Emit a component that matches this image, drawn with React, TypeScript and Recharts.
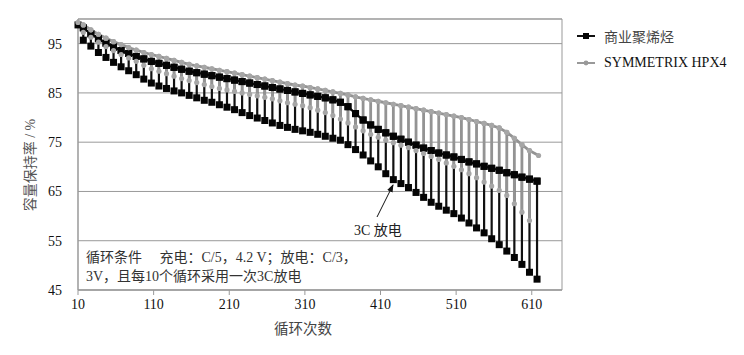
import { CartesianGrid, Line, LineChart, ReferenceArea, XAxis, YAxis } from "recharts";

// 3C discharge every 10 cycles
const cycles3C = [
  17, 27, 37, 47, 57, 67, 77, 87, 97, 107, 117, 127, 137, 147, 157, 167, 177, 187, 197, 207,
  217, 227, 237, 247, 257, 267, 277, 287, 297, 307, 317, 327, 337, 347, 357, 367, 377, 387, 397, 407,
  417, 427, 437, 447, 457, 467, 477, 487, 497, 507, 517, 527, 537, 547, 557, 567, 577, 587, 597, 607,
  617,
];

// 商业聚烯烃
const blackStart = 98.8;
const blackUpper = [
  98.2, 97.0, 96.0, 95.1, 94.3, 93.6, 93.0, 92.4, 91.9, 91.4,
  91.0, 90.6, 90.2, 89.8, 89.4, 89.1, 88.8, 88.5, 88.2, 87.9,
  87.6, 87.3, 87.0, 86.7, 86.4, 86.1, 85.8, 85.5, 85.2, 84.9,
  84.6, 84.3, 84.0, 83.6, 83.1, 82.2, 80.8, 79.5, 78.5, 77.6,
  76.9, 76.2, 75.6, 75.0, 74.4, 73.8, 73.3, 72.8, 72.4, 72.0,
  71.5, 71.0, 70.6, 70.1, 69.7, 69.3, 68.8, 68.4, 67.9, 67.5,
  67.1,
];
const blackLow = [
  95.7, 94.5, 93.2, 92.2, 91.2, 90.3, 89.5, 88.7, 87.8, 87.0,
  86.4, 85.9, 85.4, 85.0, 84.5, 84.0, 83.5, 83.1, 82.6, 82.1,
  81.6, 81.0, 80.4, 79.9, 79.4, 78.9, 78.4, 78.0, 77.6, 77.3,
  77.0, 76.6, 76.2, 75.8, 75.4, 74.5, 73.5, 72.4, 71.2, 70.0,
  68.6, 67.4, 66.6, 65.8, 64.8, 63.8, 62.8, 62.0, 61.2, 60.5,
  59.6, 58.6, 57.6, 56.6, 55.4, 54.2, 52.9, 51.6, 50.2, 48.6,
  47.2,
];

// SYMMETRIX HPX4
const grayStart = 99.3;
const grayEnd = 72.3;
const grayUpper = [
  98.8, 97.8, 96.9, 96.1, 95.4, 94.8, 94.2, 93.7, 93.2, 92.8,
  92.4, 92.0, 91.6, 91.2, 90.8, 90.5, 90.2, 89.9, 89.6, 89.3,
  89.0, 88.7, 88.4, 88.1, 87.8, 87.5, 87.2, 86.9, 86.6, 86.4,
  86.1, 85.8, 85.5, 85.2, 84.9, 84.6, 84.2, 83.9, 83.6, 83.3,
  83.0, 82.7, 82.4, 82.1, 81.8, 81.5, 81.2, 80.9, 80.6, 80.3,
  80.0, 79.6, 79.2, 78.8, 78.4, 77.9, 77.0, 75.8, 74.5, 73.3,
];
const grayLow = [
  97.3, 96.3, 95.3, 94.4, 93.6, 92.8, 92.1, 91.4, 90.6, 89.9,
  89.4, 88.9, 88.4, 87.9, 87.5, 87.1, 86.7, 86.3, 85.9, 85.6,
  85.3, 85.0, 84.7, 84.4, 84.1, 83.8, 83.4, 83.0, 82.7, 82.4,
  82.0, 81.5, 81.0, 80.4, 79.7, 78.9, 78.1, 77.3, 76.6, 76.0,
  75.4, 74.9, 74.4, 73.9, 73.3, 72.7, 72.1, 71.5, 70.8, 70.1,
  69.4, 68.6, 67.8, 66.9, 66.1, 65.2, 64.2, 62.5, 60.8, 59.1,
];

const xTicks = [10, 110, 210, 310, 410, 510, 610];
const yTicks = [45, 55, 65, 75, 85, 95];

// upper -> 3C drop -> back up, so each 3C point hangs as a vertical spike
const buildSeries = (start: number, upper: number[], low: number[]) => {
  const pts = [{ x: 10, y: start }];
  low.forEach((l, i) => {
    const c = cycles3C[i];
    pts.push({ x: c, y: upper[i] }, { x: c, y: l }, { x: c, y: upper[i] });
  });
  return pts;
};

const blackData = buildSeries(blackStart, blackUpper, blackLow);
const grayData = [...buildSeries(grayStart, grayUpper, grayLow), { x: 619, y: grayEnd }];

const serif = '"Liberation Serif", "Times New Roman", "Noto Sans CJK SC", serif';

const squareDot = (p: any) => (
  <rect key={`b${p.index}`} x={p.cx - 3.5} y={p.cy - 3.5} width={7} height={7} fill="#050505" />
);
const circleDot = (p: any) => (
  <circle key={`g${p.index}`} cx={p.cx} cy={p.cy} r={2.6} fill="#a6a6a6" />
);

const LegendBox = () => (
  <div style={{ position: "absolute", left: 576, top: 26, fontFamily: serif, fontSize: 14 }}>
    <div style={{ display: "flex", alignItems: "center", height: 20, color: "#444" }}>
      <svg width={24} height={10} style={{ marginRight: 4 }}>
        <line x1={1} y1={5} x2={19} y2={5} stroke="#111" strokeWidth={2} />
        <rect x={7} y={2} width={6} height={6} fill="#050505" />
      </svg>
      商业聚烯烃
    </div>
    <div style={{ display: "flex", alignItems: "center", height: 20, marginTop: 7, color: "#111" }}>
      <svg width={24} height={10} style={{ marginRight: 4 }}>
        <line x1={1} y1={5} x2={19} y2={5} stroke="#999" strokeWidth={2} />
        <circle cx={10} cy={5} r={2.4} fill="#999" />
      </svg>
      SYMMETRIX HPX4
    </div>
  </div>
);

const App = () => {
  return (
    <div style={{ position: "absolute", left: 0, top: 0, width: 744, height: 355, background: "#fff" }}>
      <LineChart width={744} height={355} margin={{ top: 19, right: 182, left: 18, bottom: 35 }}>
        <CartesianGrid vertical={false} stroke="#999" />
        <ReferenceArea x1={10} x2={650} y1={45} y2={100} fill="none" stroke="#999" ifOverflow="visible" />
        <XAxis
          type="number"
          dataKey="x"
          domain={[10, 650]}
          ticks={xTicks}
          allowDecimals={false}
          height={30}
          stroke="#999"
          tickSize={5}
          tick={{ fill: "#111", fontSize: 14, fontFamily: serif }}
          tickMargin={4}
          label={{
            value: "循环次数",
            position: "bottom",
            offset: 4,
            dx: -17,
            fill: "#444",
            fontSize: 14.5,
            fontFamily: serif,
          }}
        />
        <YAxis
          type="number"
          dataKey="y"
          domain={[45, 100]}
          ticks={yTicks}
          width={60}
          stroke="#999"
          tickLine={false}
          tickMargin={10}
          tick={{ fill: "#111", fontSize: 14, fontFamily: serif }}
          label={{
            content: ({ viewBox }: any) => {
              const x = viewBox.x + 12;
              const y = 165;
              return (
                <text
                  x={x}
                  y={y}
                  transform={`rotate(-90 ${x} ${y})`}
                  textAnchor="middle"
                  dominantBaseline="central"
                  fill="#555"
                  fontSize={14}
                  fontFamily={serif}
                >
                  容量保持率 / %
                </text>
              );
            },
          }}
        />
        <Line
          data={blackData}
          dataKey="y"
          name="商业聚烯烃"
          type="linear"
          stroke="#111"
          strokeWidth={2.2}
          dot={squareDot}
          activeDot={false}
          isAnimationActive={false}
        />
        <Line
          data={grayData}
          dataKey="y"
          name="SYMMETRIX HPX4"
          type="linear"
          stroke="#939393"
          strokeWidth={2.8}
          dot={circleDot}
          activeDot={false}
          isAnimationActive={false}
        />
      </LineChart>
      <LegendBox />
      <svg
        width={744}
        height={355}
        style={{ position: "absolute", left: 0, top: 0, pointerEvents: "none" }}
        fontFamily={serif}
      >
        <defs>
          <marker id="arr" markerWidth={8} markerHeight={8} refX={7} refY={4} orient="auto" markerUnits="userSpaceOnUse">
            <path d="M0,1 L8,4 L0,7 Z" fill="#111" />
          </marker>
        </defs>
        <line x1={377} y1={217} x2={393} y2={185} stroke="#111" strokeWidth={1} markerEnd="url(#arr)" />
        <text x={354} y={235} fontSize={14} fill="#222">3C 放电</text>
        <text x={86} y={262} fontSize={14} fill="#333">循环条件　 充电：C/5，4.2 V；放电：C/3，</text>
        <text x={86} y={281} fontSize={14} fill="#333">3V，且每10个循环采用一次3C放电</text>
      </svg>
    </div>
  );
};

export default App;
